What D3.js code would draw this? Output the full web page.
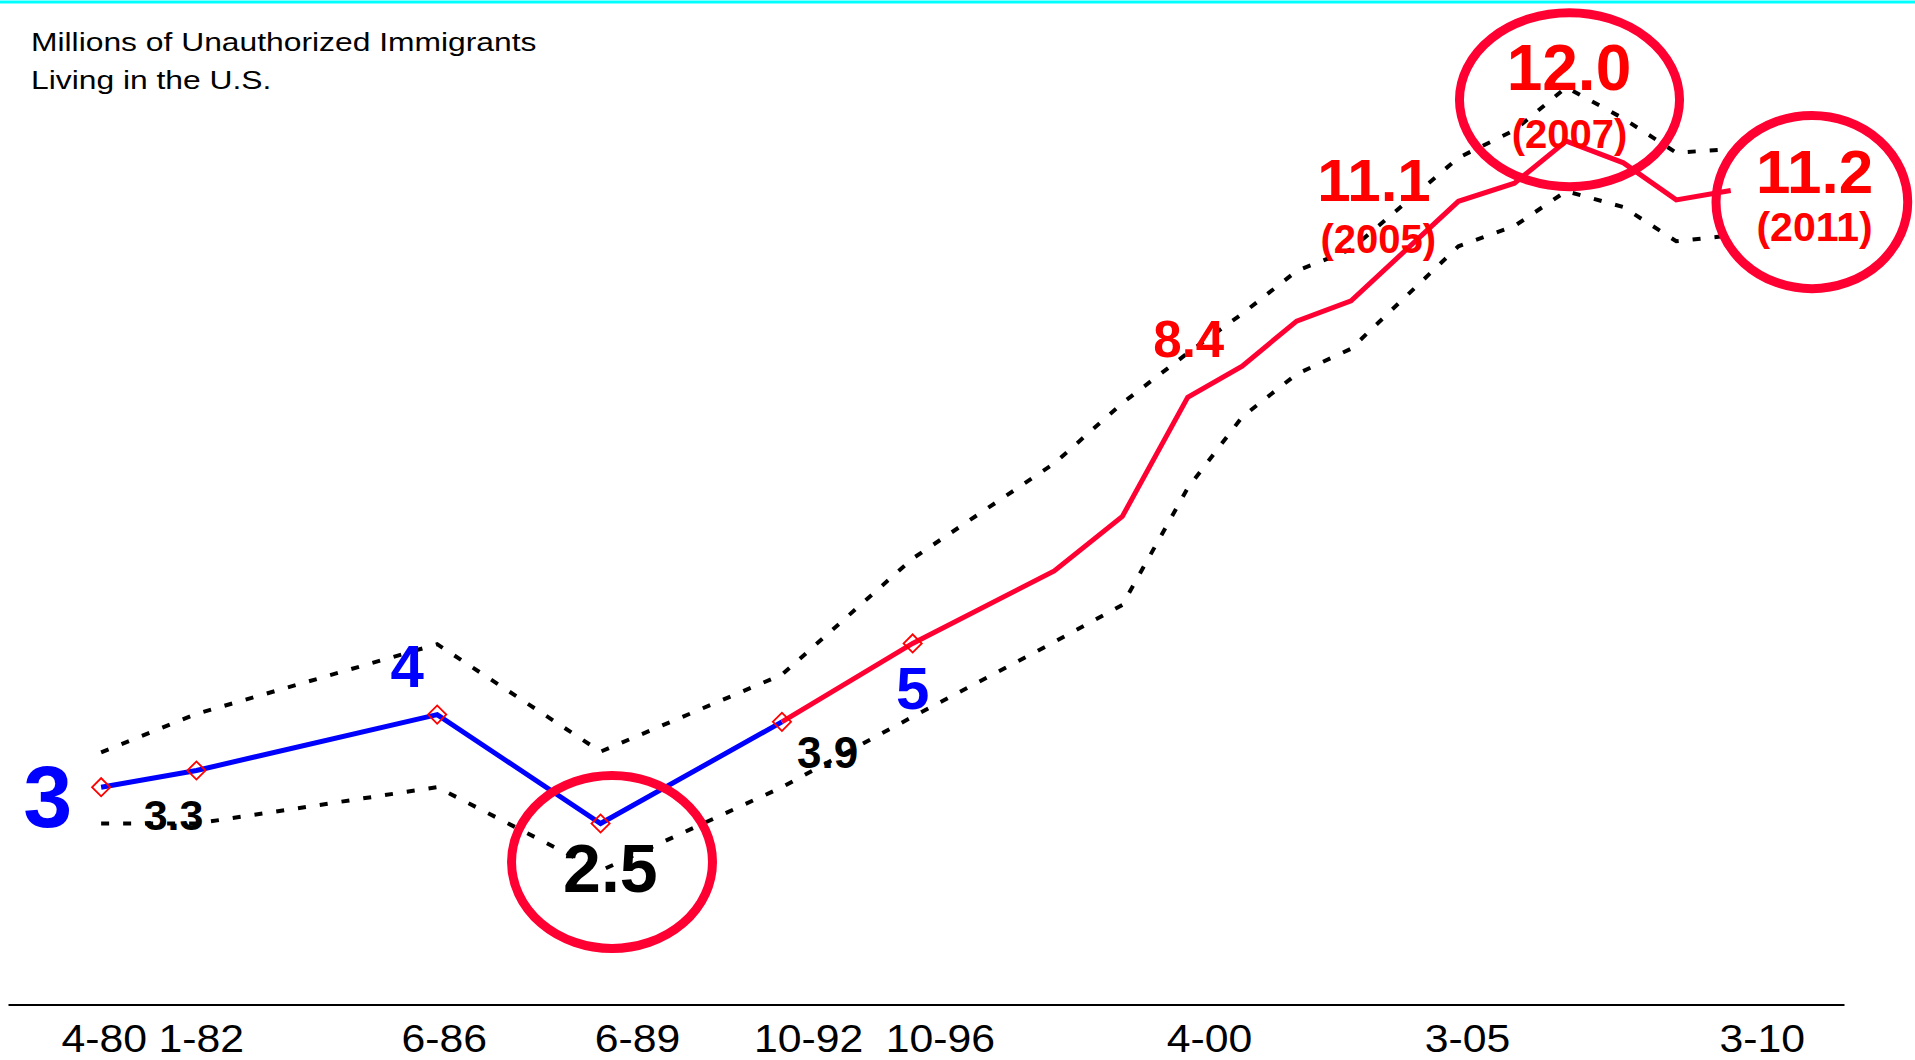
<!DOCTYPE html>
<html><head><meta charset="utf-8">
<script src="https://cdn.jsdelivr.net/npm/d3@7"></script>
<style>html,body{margin:0;padding:0;background:#fff;overflow:hidden}</style>
</head><body>
<svg id="chart" width="1915" height="1060"></svg>
<script>
// ---- data (decimal year of each estimate, millions) ----
const surveyDates = [1980.25, 1982.0, 1986.42, 1989.42, 1992.75, 1995.15, 1997.75, 1999.0, 2000.2, 2001.2, 2002.2, 2003.2, 2005.17, 2006.2, 2007.15, 2008.2, 2009.17, 2010.17];
const estimateMillions = [3.0, 3.23, 4.0, 2.5, 3.9, 4.98, 5.98, 6.73, 8.37, 8.8, 9.42, 9.7, 11.07, 11.32, 11.9, 11.6, 11.09, 11.22];
const upperBound = [3.48, 4.01, 4.97, 3.49, 4.55, 6.15, 7.46, 8.29, 8.98, 9.52, 10.11, 10.41, 11.67, 12.05, 12.64, 12.21, 11.74, 11.79];
const lowerBound = [2.5, 2.5, 3.0, 1.85, 3.0, 3.97, 5.0, 5.51, 7.12, 8.1, 8.69, 9.04, 10.45, 10.73, 11.21, 10.99, 10.52, 10.6];
const earlyPeriodLastIndex = 4;   // blue segment ends here
const markedSurveys = 6;          // first six estimates carry diamond markers

const tickLabels = ["4-80", "1-82", "6-86", "6-89", "10-92", "10-96", "4-00", "3-05", "3-10"];
const tickDates = [1980.30, 1982.08, 1986.54, 1990.09, 1993.23, 1995.65, 2000.59, 2005.33, 2010.74];

const annotationTexts = ["3", "3.3", "4", "2.5", "3.9", "5", "8.4", "11.1", "(2005)", "12.0", "(2007)", "11.2", "(2011)"];
const annotationDates = [1979.27, 1981.58, 1985.87, 1989.60, 1993.59, 1995.15, 2000.22, 2003.62, 2003.70, 2007.20, 2007.21, 2011.71, 2011.71];
const annotationValues = [2.45, 2.41, 4.38, 1.556, 3.26, 4.08, 8.93, 11.07, 10.36, 12.60, 11.81, 11.18, 10.53];

const highlightDates = [1989.63, 2007.21, 2011.66];
const highlightValues = [1.97, 12.47, 11.06];
const highlightHalfYears = [1.845, 2.02, 1.76];
const highlightHalfMillions = [1.191, 1.198, 1.193];

const titleLines = ["Millions of Unauthorized Immigrants", "Living in the U.S."];

// ---- drawing ----
const FONT = "'Liberation Sans', Arial, Helvetica, sans-serif";
const svg = d3.select("#chart");

const x = d3.scaleLinear().domain([1978.54, 2012.25]).range([8, 1844]);
const y = d3.scaleLinear().domain([0, 13]).range([1005, 1005 - 13 * 72.6]);

// top border
svg.append("line").attr("x1", 0).attr("x2", 1915).attr("y1", 2).attr("y2", 2)
  .attr("stroke", "#00FFFF").attr("stroke-width", 3);

// title
const tg = svg.append("g").attr("transform", "translate(31,0) scale(1.2,1)");
tg.selectAll("text").data(titleLines).join("text")
  .attr("x", 0).attr("y", (d, i) => 51.5 + i * 38)
  .attr("font-family", FONT).attr("font-size", 26.5).attr("fill", "#000")
  .text(d => d);

// axis
const axis = d3.axisBottom(x).tickValues(tickDates).tickFormat((d, i) => tickLabels[i])
  .tickSize(0).tickSizeOuter(0);
const ag = svg.append("g").attr("transform", "translate(0,1004.5)").call(axis);
ag.select(".domain").attr("stroke", "#000").attr("stroke-width", 2);
ag.selectAll(".tick text").attr("y", 48).attr("dy", "0")
  .attr("font-family", FONT).attr("font-size", 38.5).attr("fill", "#000")
  .attr("transform", "scale(1.11,1)");

// bounds (dotted)
const boundLine = d3.line().x((d, i) => x(surveyDates[i])).y(d => y(d));
[upperBound, lowerBound].forEach(b => {
  svg.append("path").datum(b).attr("d", boundLine)
    .attr("fill", "none").attr("stroke", "#000").attr("stroke-width", 4)
    .attr("stroke-dasharray", "8,14");
});

// main estimate line
const idx = d3.range(surveyDates.length);
const mainLine = d3.line().x(i => x(surveyDates[i])).y(i => y(estimateMillions[i]));
svg.append("path").datum(idx.slice(0, earlyPeriodLastIndex + 1)).attr("d", mainLine)
  .attr("fill", "none").attr("stroke", "#0000FF").attr("stroke-width", 5);
svg.append("path").datum(idx.slice(earlyPeriodLastIndex)).attr("d", mainLine)
  .attr("fill", "none").attr("stroke", "#FF0033").attr("stroke-width", 5);

// diamond markers
svg.selectAll(".marker").data(idx.slice(0, markedSurveys)).join("path")
  .attr("class", "marker")
  .attr("d", d3.symbol(d3.symbolSquare, 165))
  .attr("transform", i => `translate(${x(surveyDates[i])},${y(estimateMillions[i])}) rotate(45)`)
  .attr("fill", "none").attr("stroke", "#FF0000").attr("stroke-width", 1.8);

// annotation labels
const annSize = [88, 43, 60, 68, 44, 60, 51, 60, 40, 64, 40, 62, 41];
const annColor = ["#0000FF", "#000", "#0000FF", "#000", "#000", "#0000FF", "#FF0000", "#FF0000", "#FF0000", "#FF0000", "#FF0000", "#FF0000", "#FF0000"];
svg.selectAll(".ann").data(annotationTexts).join("text")
  .attr("class", "ann")
  .attr("x", (d, i) => x(annotationDates[i]))
  .attr("y", (d, i) => y(annotationValues[i]))
  .attr("text-anchor", "middle")
  .attr("font-family", FONT).attr("font-weight", "bold")
  .attr("font-size", (d, i) => annSize[i])
  .attr("fill", (d, i) => annColor[i])
  .text(d => d);

// highlight ellipses
svg.selectAll(".hl").data(highlightDates).join("ellipse")
  .attr("class", "hl")
  .attr("cx", d => x(d))
  .attr("cy", (d, i) => y(highlightValues[i]))
  .attr("rx", (d, i) => x(d + highlightHalfYears[i]) - x(d))
  .attr("ry", (d, i) => y(highlightValues[i] - highlightHalfMillions[i]) - y(highlightValues[i]))
  .attr("fill", "none").attr("stroke", "#FF0033").attr("stroke-width", 9);
</script>
</body></html>
